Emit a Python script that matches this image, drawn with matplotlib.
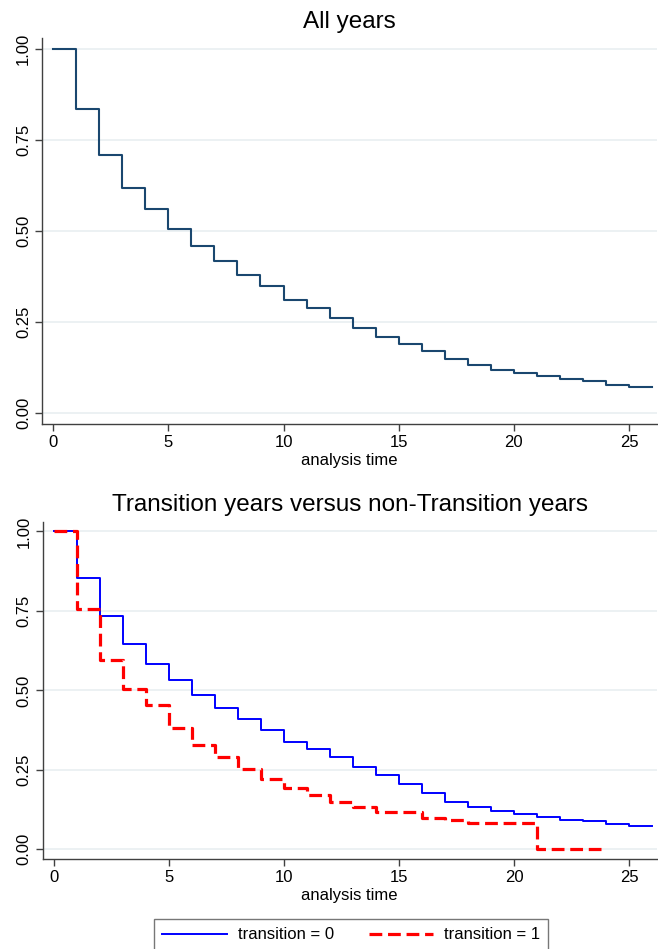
"""Kaplan-Meier survival estimates: all years and by transition status."""

import numpy as np
import matplotlib
matplotlib.use("Agg")
import matplotlib.pyplot as plt

plt.rcParams["font.family"] = ["Liberation Sans", "DejaVu Sans"]

# survival estimates (step functions, post-step values)
t_all = list(range(0, 27))
s_all = [1.000, 0.835, 0.709, 0.618, 0.560, 0.506, 0.458, 0.417, 0.380,
         0.349, 0.311, 0.289, 0.261, 0.234, 0.209, 0.191, 0.171, 0.149,
         0.132, 0.120, 0.110, 0.101, 0.093, 0.088, 0.077, 0.073, 0.073]

t_tr0 = list(range(0, 27))
s_tr0 = [1.000, 0.853, 0.734, 0.646, 0.584, 0.534, 0.487, 0.445, 0.410,
         0.376, 0.339, 0.317, 0.292, 0.260, 0.234, 0.206, 0.178, 0.150,
         0.134, 0.120, 0.112, 0.102, 0.093, 0.088, 0.080, 0.073, 0.073]

t_tr1 = [0, 1, 2, 3, 4, 5, 6, 7, 8, 9, 10, 11, 12, 13, 14, 16, 17, 18, 21, 23.8]
s_tr1 = [1.000, 0.756, 0.595, 0.503, 0.455, 0.382, 0.329, 0.290, 0.253,
         0.220, 0.192, 0.171, 0.150, 0.134, 0.118, 0.100, 0.092, 0.084,
         0.000, 0.000]

yticks = [0.0, 0.25, 0.5, 0.75, 1.0]
xticks = [0, 5, 10, 15, 20, 25]

GRID = "#e9eff1"
SPINE = "#404040"


def style_axes(ax):
    ax.set_xlim(-0.48, 26.2)
    ax.set_ylim(-0.03, 1.03)
    ax.set_yticks(yticks)
    ax.set_yticklabels([f"{v:.2f}" for v in yticks], rotation=90, va="center")
    ax.set_xticks(xticks)
    ax.grid(axis="y", color=GRID, linewidth=1.2)
    ax.set_axisbelow(True)
    for side in ["top", "right"]:
        ax.spines[side].set_visible(False)
    for side in ["left", "bottom"]:
        ax.spines[side].set_color(SPINE)
        ax.spines[side].set_linewidth(1.0)
    ax.tick_params(direction="out", length=5, width=1, color=SPINE,
                   labelsize=12, pad=3)
    ax.set_xlabel("analysis time", fontsize=12, labelpad=2)


fig = plt.figure(figsize=(6.58, 9.49), dpi=100)

ax1 = fig.add_axes([0.064, 0.553, 0.934, 0.407])
ax1.step(t_all, s_all, where="post", color="#1a476f", linewidth=1.5)
style_axes(ax1)
ax1.set_title("All years", fontsize=17.5, pad=7)

ax2 = fig.add_axes([0.065, 0.095, 0.933, 0.355])
l0, = ax2.step(t_tr0, s_tr0, where="post", color="#0000ff", linewidth=1.4,
               label="transition = 0")
l1, = ax2.step(t_tr1, s_tr1, where="post", color="#ff0000", linewidth=2.3,
               linestyle=(0, (4, 1.8)), label="transition = 1")
style_axes(ax2)
ax2.set_title("Transition years versus non-Transition years",
              fontsize=17.5, pad=8)

leg = fig.legend(handles=[l0, l1], loc="upper left", ncol=2,
                 bbox_to_anchor=(154 / 658, 1 - 919 / 949), fontsize=12,
                 frameon=True, fancybox=False, edgecolor="#555555",
                 handlelength=3.85, handletextpad=0.66, columnspacing=2.1,
                 borderpad=0.5, borderaxespad=0)
leg.get_frame().set_linewidth(1.0)

fig.savefig("out.png", dpi=100)
